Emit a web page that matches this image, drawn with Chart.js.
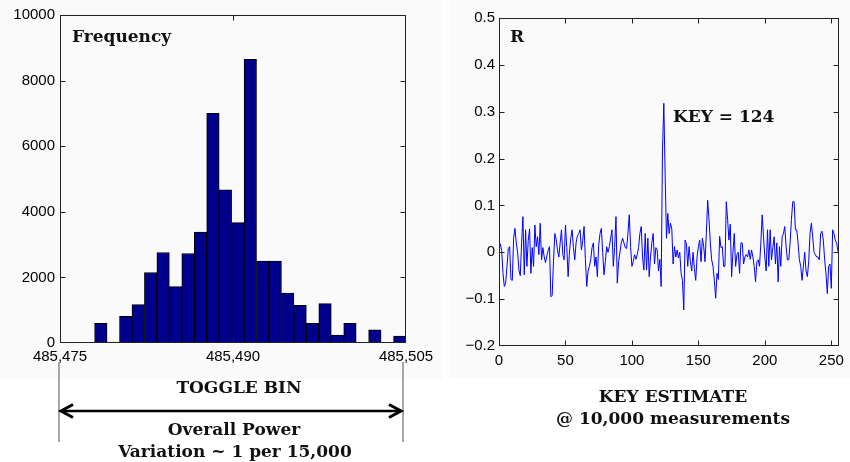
<!DOCTYPE html>
<html>
<head>
<meta charset="utf-8">
<script src="https://cdn.jsdelivr.net/npm/chart.js@4/dist/chart.umd.min.js"></script>
<style>
  html,body{margin:0;padding:0;background:#fff;}
  body{width:850px;height:462px;position:relative;overflow:hidden;}
  .panel{position:absolute;background:#fafafa;}
  canvas{position:absolute;}
  .t{position:absolute;font-family:"DejaVu Serif",serif;font-weight:bold;font-size:17px;line-height:20px;color:#111;white-space:nowrap;}
  .c{transform:translateX(-50%);text-align:center;}
</style>
</head>
<body>
<div class="panel" style="left:0;top:0;width:442px;height:379px"></div>
<div class="panel" style="left:450px;top:0;width:400px;height:378px"></div>
<canvas id="hist" width="440" height="380" style="left:0;top:0"></canvas>
<canvas id="corr" width="410" height="380" style="left:440px;top:0"></canvas>

<svg width="850" height="462" style="position:absolute;left:0;top:0">
  <line x1="59" y1="362" x2="59" y2="442" stroke="#8a8a8a" stroke-width="1.5"/>
  <line x1="403" y1="362" x2="403" y2="442" stroke="#8a8a8a" stroke-width="1.5"/>
  <line x1="62" y1="411" x2="400" y2="411" stroke="#000" stroke-width="2.5"/>
  <polyline points="73,404.5 61,411 73,417.5" fill="none" stroke="#000" stroke-width="3"/>
  <polyline points="389,404.5 401,411 389,417.5" fill="none" stroke="#000" stroke-width="3"/>
</svg>

<div class="t" style="left:72px;top:26px">Frequency</div>
<div class="t c" style="left:239px;top:377px">TOGGLE BIN</div>
<div class="t c" style="left:234px;top:419px">Overall Power</div>
<div class="t c" style="left:235px;top:441px">Variation ~ 1 per 15,000</div>
<div class="t" style="left:510px;top:26px">R</div>
<div class="t" style="left:673px;top:106px">KEY = 124</div>
<div class="t c" style="left:673px;top:386px">KEY ESTIMATE</div>
<div class="t c" style="left:673px;top:408px">@ 10,000 measurements</div>

<script>
// left: histogram of toggle counts
const binCenters=[485478.54,485479.62,485480.70,485481.78,485482.86,485483.94,485485.02,485486.10,485487.18,485488.26,485489.34,485490.42,485491.50,485492.58,485493.66,485494.74,485495.82,485496.90,485497.98,485499.06,485500.14,485501.22,485502.30,485503.38,485504.46];
const freq=[600,30,810,1170,2150,2760,1720,2730,3380,7000,4670,3670,8650,2500,2500,1520,1150,600,1200,240,600,0,400,0,210];
const binTicks=[485475,485490,485505];
const freqTicks=[0,2000,4000,6000,8000,10000];

// right: correlation per key guess
const corr=[
 0.020,0.018,0.004,-0.045,-0.073,-0.066,-0.030,0.008,0.012,-0.058,
 -0.060,0.030,0.051,0.020,0.000,-0.038,-0.050,0.020,0.076,-0.048,
 0.048,-0.030,0.025,0.050,-0.045,0.010,-0.030,0.058,0.012,0.033,
 -0.005,0.062,-0.016,0.010,-0.010,-0.022,-0.008,0.004,0.012,-0.095,
 -0.092,-0.020,0.040,0.028,0.005,-0.010,0.020,0.048,-0.005,-0.016,
 0.058,0.010,-0.052,0.000,0.030,0.048,0.010,-0.016,0.020,0.035,
 0.040,0.048,0.005,0.025,0.055,-0.016,-0.073,-0.040,-0.030,-0.016,
 0.010,0.020,-0.030,-0.010,-0.052,0.015,0.040,0.051,0.000,-0.048,
 -0.020,0.012,0.000,0.012,0.030,0.048,-0.030,0.010,0.076,-0.066,
 -0.020,0.000,0.020,0.030,0.020,0.010,0.008,0.040,0.080,0.012,
 -0.030,-0.020,-0.005,-0.015,-0.005,0.010,0.040,0.055,-0.010,-0.038,
 0.040,-0.038,0.030,-0.052,-0.010,0.020,0.040,-0.025,0.010,0.005,
 -0.040,-0.015,-0.073,0.218,0.318,0.165,0.030,0.083,0.040,0.062,
 0.050,-0.025,0.012,-0.010,0.005,-0.012,0.000,-0.045,-0.060,-0.123,
 0.026,0.018,-0.030,0.012,-0.020,-0.040,0.000,-0.035,-0.060,-0.010,
 0.012,0.026,-0.020,0.030,0.012,-0.020,0.040,0.111,0.070,0.020,
 -0.016,-0.030,-0.060,-0.098,-0.045,-0.058,0.034,0.010,0.012,-0.030,
 -0.030,0.108,0.070,0.026,0.060,-0.052,0.000,0.040,-0.030,-0.005,
 0.000,-0.045,0.020,0.020,-0.025,-0.010,-0.005,-0.010,0.005,-0.015,
 0.005,-0.010,-0.030,-0.063,-0.020,-0.016,-0.030,0.020,0.080,0.033,
 -0.010,-0.040,0.048,-0.030,0.048,-0.016,0.010,0.033,-0.025,0.020,
 -0.063,0.012,-0.030,0.033,0.040,0.055,0.012,-0.016,-0.016,0.020,
 0.070,0.108,0.108,0.048,0.048,0.020,-0.016,-0.030,-0.060,-0.030,
 0.000,-0.040,-0.052,-0.020,0.040,0.062,0.033,0.000,-0.005,-0.010,
 -0.010,-0.016,0.040,0.045,0.026,-0.016,-0.045,-0.088,-0.030,-0.025,
 -0.077,0.048,0.040,0.026,0.020,0.002];
const keys=corr.map((_,i)=>i);
const keyTicks=[0,50,100,150,200,250];
const rTicks=[-0.2,-0.1,0,0.1,0.2,0.3,0.4,0.5];

Chart.defaults.font.family='"Liberation Sans",Arial,sans-serif';
Chart.defaults.font.size=15;
Chart.defaults.color='#000';

// matlab-ish box with inward ticks on all four sides
const boxAxes={id:'boxAxes',afterDraw(c){
  const {ctx,chartArea:a,scales:{x,y}}=c;
  ctx.save();ctx.strokeStyle='#222';ctx.lineWidth=1;
  const L=Math.round(a.left)+.5,R=Math.round(a.right)-.5,T=Math.round(a.top)+.5,B=Math.round(a.bottom)-.5;
  const cl=(p,lo,hi)=>Math.min(hi,Math.max(lo,p));
  ctx.strokeRect(L,T,R-L,B-T);
  ctx.beginPath();
  x.ticks.forEach(t=>{const p=cl(Math.round(x.getPixelForValue(t.value))+.5,L,R);ctx.moveTo(p,B);ctx.lineTo(p,B-5);ctx.moveTo(p,T);ctx.lineTo(p,T+5);});
  y.ticks.forEach(t=>{const p=cl(Math.round(y.getPixelForValue(t.value))+.5,T,B);ctx.moveTo(L,p);ctx.lineTo(L+5,p);ctx.moveTo(R,p);ctx.lineTo(R-5,p);});
  ctx.stroke();ctx.restore();
}};

const fixTicks=arr=>s=>{s.ticks=arr.map(v=>({value:v}));};

new Chart(document.getElementById('hist'),{
  type:'bar',
  data:{datasets:[{data:binCenters.map((b,i)=>({x:b,y:freq[i]})),backgroundColor:'#00008c',borderColor:'#000',borderWidth:1,borderSkipped:'start',barPercentage:1,categoryPercentage:1}]},
  options:{responsive:false,animation:false,devicePixelRatio:1,
    layout:{padding:{left:0,top:15,right:34,bottom:7}},
    plugins:{legend:{display:false},tooltip:{enabled:false}},
    scales:{
      x:{type:'linear',min:485475,max:485505,offset:false,grid:{display:false,drawTicks:false},border:{display:false},
        afterBuildTicks:fixTicks(binTicks),afterFit:s=>{s.height=30;},
        ticks:{padding:5,maxRotation:0,autoSkip:false,callback:v=>v.toLocaleString('en-US')}},
      y:{min:0,max:10000,grid:{display:false,drawTicks:false},border:{display:false},
        afterBuildTicks:fixTicks(freqTicks),afterFit:s=>{s.width=60;},
        ticks:{padding:5,callback:v=>String(v)}}
    }},
  plugins:[boxAxes]
});

new Chart(document.getElementById('corr'),{
  type:'line',
  data:{datasets:[{data:keys.map((k,i)=>({x:k,y:corr[i]})),borderColor:'#0000ff',borderWidth:1,pointRadius:0,tension:0,fill:false}]},
  options:{responsive:false,animation:false,devicePixelRatio:1,
    layout:{padding:{left:0,top:18,right:8,bottom:4}},
    plugins:{legend:{display:false},tooltip:{enabled:false}},
    scales:{
      x:{type:'linear',min:0,max:256,grid:{display:false,drawTicks:false},border:{display:false},
        afterBuildTicks:fixTicks(keyTicks),afterFit:s=>{s.height=30;},
        ticks:{padding:6,maxRotation:0,autoSkip:false}},
      y:{min:-0.2,max:0.5,grid:{display:false,drawTicks:false},border:{display:false},
        afterBuildTicks:fixTicks(rTicks),afterFit:s=>{s.width=59;},
        ticks:{padding:4,callback:v=>v<0?'\u2212'+Math.abs(v):String(v)}}
    }},
  plugins:[boxAxes]
});
</script>
</body>
</html>
